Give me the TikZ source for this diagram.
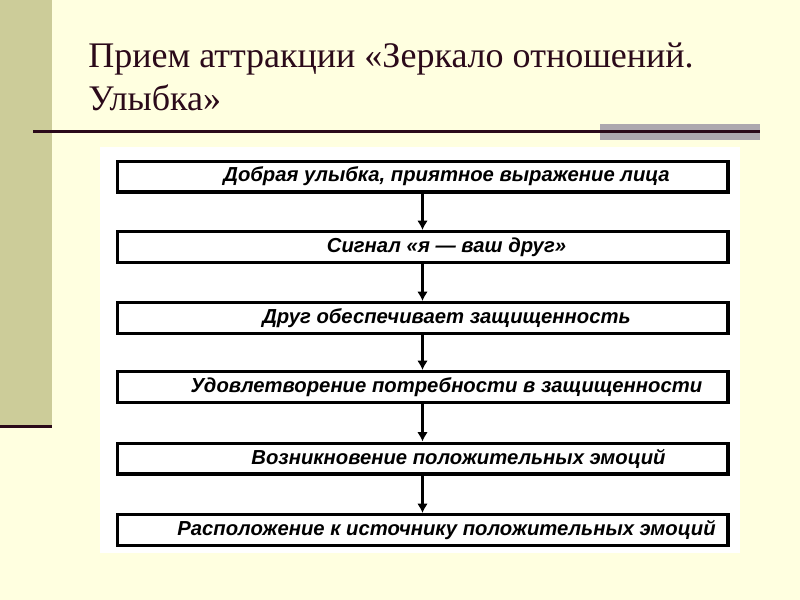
\documentclass[tikz,border=0pt]{standalone}
\usepackage{fontspec}
\setmainfont{Liberation Serif}
\newfontfamily\headfont{Liberation Serif}
\newfontfamily\stepfont{Liberation Sans}
\usetikzlibrary{arrows.meta}
\usetikzlibrary{positioning}

\definecolor{slidebg}{HTML}{FFFFE0}
\definecolor{sidebar}{HTML}{CCCC99}
\definecolor{rulecol}{HTML}{2B0A1A}
\definecolor{greybar}{HTML}{ADA8AF}

\tikzset{
  stepbox/.style={draw=black, fill=white, line width=2.5pt, minimum width=458pt,
    minimum height=23pt, inner sep=0pt,
    font=\stepfont\bfseries\itshape\fontsize{15.2}{17}\selectfont},
  flowarrow/.style={line width=1.6pt, -{Latex[length=7pt,width=8pt]}},
  headline/.style={anchor=base west, inner sep=0pt, text=rulecol,
    font=\headfont\fontsize{27}{32}\selectfont}
}

\begin{document}
\begin{tikzpicture}[x=0.75pt,y=-0.75pt]
		\useasboundingbox (0,0) rectangle (800,600);
		\fill[slidebg] (0,0) rectangle (800,600);
		\fill[sidebar] (0,0) rectangle (52,425);
		\fill[rulecol] (0,425) rectangle (52,428);
		\fill[greybar] (600,124) rectangle (760,140);
		\draw[rulecol, line width=2.2pt] (33,131.5) -- (760,131.5);
		\node[headline] (title1) at (88,67) {Прием аттракции «Зеркало отношений.};
		\node[headline] (title2) at (88,110) {Улыбка»};
		\fill[white] (100,147) rectangle (740,553);
		\node[stepbox] (s1) at (422.5,176.5) {\hspace*{36pt}Добрая улыбка, приятное выражение лица};
		\node[stepbox] (s2) at (422.5,247) {\hspace*{36pt}Сигнал «я — ваш друг»};
		\node[stepbox] (s3) at (422.5,318) {\hspace*{36pt}Друг обеспечивает защищенность};
		\node[stepbox] (s4) at (422.5,387) {\hspace*{36pt}Удовлетворение потребности в защищенности};
		\node[stepbox] (s5) at (422.5,458.5) {\hspace*{54pt}Возникновение положительных эмоций};
		\node[stepbox] (s6) at (422.5,530) {\hspace*{36pt}Расположение к источнику положительных эмоций};
		\foreach \a/\b in {s1/s2,s2/s3,s3/s4,s4/s5,s5/s6}
		{
			\draw[flowarrow] (\a) -- (\b);
		}
	\end{tikzpicture}
\end{document}
